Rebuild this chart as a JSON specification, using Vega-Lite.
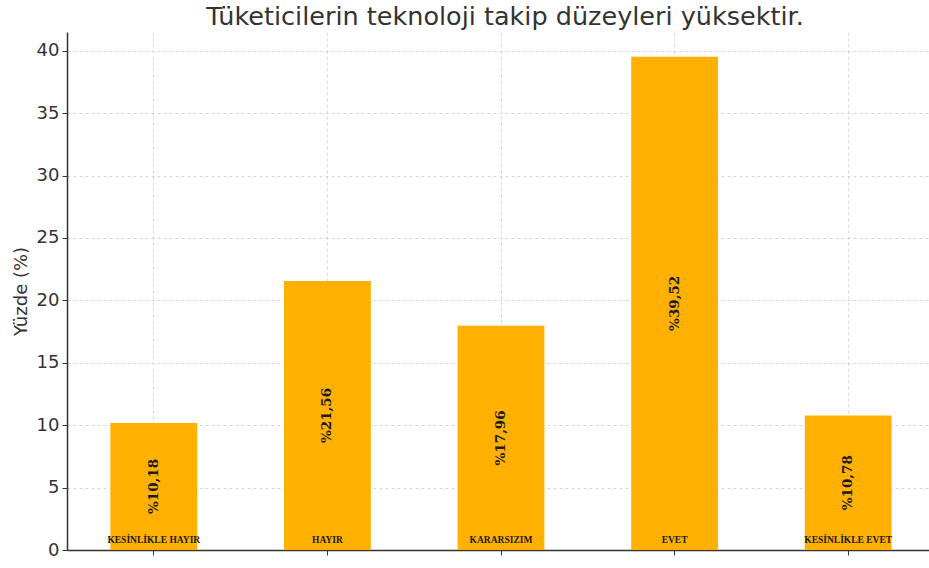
{
  "$schema": "https://vega.github.io/schema/vega-lite/v6.json",
  "width": 862,
  "height": 518,
  "autosize": {"type": "none"},
  "padding": {"left": 67, "top": 32, "right": 0, "bottom": 18},
  "background": "white",
  "view": {"stroke": null},
  "title": {
    "text": "Tüketicilerin teknoloji takip düzeyleri yüksektir.",
    "font": "DejaVu Sans",
    "fontSize": 25.5,
    "fontWeight": "normal",
    "color": "#333333",
    "anchor": "middle",
    "offset": 2,
    "dx": 7
  },
  "data": {
    "values": [
      {"kategori": "KESİNLİKLE HAYIR", "yuzde": 10.18, "etiket": "%10,18"},
      {"kategori": "HAYIR", "yuzde": 21.56, "etiket": "%21,56"},
      {"kategori": "KARARSIZIM", "yuzde": 17.96, "etiket": "%17,96"},
      {"kategori": "EVET", "yuzde": 39.52, "etiket": "%39,52"},
      {"kategori": "KESİNLİKLE EVET", "yuzde": 10.78, "etiket": "%10,78"}
    ]
  },
  "encoding": {
    "x": {
      "field": "kategori",
      "type": "nominal",
      "sort": null,
      "scale": {"paddingInner": 0.5, "paddingOuter": 0.25, "range": [0, 868]},
      "axis": {
        "title": null,
        "labels": false,
        "bandPosition": 0.5,
        "grid": true,
        "gridDash": [3, 3],
        "gridColor": "#cccccc",
        "gridWidth": 0.8,
        "domainColor": "#333333",
        "domainWidth": 1.5,
        "tickColor": "#333333",
        "tickSize": 5
      }
    }
  },
  "layer": [
    {
      "mark": {"type": "bar", "color": "#FFB000"},
      "encoding": {
        "y": {
          "field": "yuzde",
          "type": "quantitative",
          "scale": {"domain": [0, 41.5], "nice": false},
          "axis": {
            "title": "Yüzde (%)",
            "titleFont": "DejaVu Sans",
            "titleFontSize": 18,
            "titleFontWeight": "normal",
            "titleColor": "#333333",
            "titlePadding": 6,
            "values": [0, 5, 10, 15, 20, 25, 30, 35, 40],
            "labelFont": "DejaVu Sans",
            "labelFontSize": 18,
            "labelColor": "#333333",
            "labelPadding": 3,
            "tickSize": 5,
            "tickColor": "#333333",
            "domainColor": "#333333",
            "domainWidth": 1.5,
            "grid": true,
            "gridDash": [3, 3],
            "gridColor": "#cccccc",
            "gridWidth": 0.8
          }
        }
      }
    },
    {
      "transform": [{"calculate": "datum.yuzde / 2", "as": "orta"}],
      "mark": {"type": "text", "angle": 270, "font": "DejaVu Serif", "fontWeight": "bold", "fontSize": 13.5, "color": "#1a1a1a", "align": "center", "baseline": "middle"},
      "encoding": {
        "y": {"field": "orta", "type": "quantitative"},
        "text": {"field": "etiket"}
      }
    },
    {
      "mark": {"type": "text", "font": "Liberation Serif", "fontWeight": "bold", "fontSize": 9.5, "color": "#1a1a1a", "align": "center", "baseline": "alphabetic", "dy": -7},
      "encoding": {
        "y": {"datum": 0, "type": "quantitative"},
        "text": {"field": "kategori"}
      }
    }
  ]
}
